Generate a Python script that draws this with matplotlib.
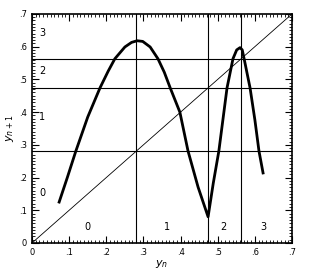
import numpy as np
import matplotlib.pyplot as plt
from matplotlib.ticker import MultipleLocator, FuncFormatter

# map curve y_{n+1} = f(y_n)
yn = [0.073, 0.095, 0.118, 0.150, 0.183, 0.205, 0.223, 0.250, 0.268, 0.283,
      0.298, 0.318, 0.339, 0.356, 0.372, 0.398, 0.420, 0.447, 0.474,
      0.488, 0.503, 0.525, 0.541, 0.551, 0.560, 0.566, 0.571, 0.587,
      0.600, 0.611, 0.622]
yn1 = [0.125, 0.200, 0.281, 0.385, 0.474, 0.525, 0.563, 0.599, 0.613, 0.618,
       0.616, 0.599, 0.563, 0.522, 0.474, 0.400, 0.281, 0.171, 0.080,
       0.183, 0.281, 0.474, 0.563, 0.590, 0.597, 0.590, 0.563, 0.474,
       0.376, 0.281, 0.214]

# partition boundaries
bounds = [0.281, 0.474, 0.563]

# region labels
lab_text = ['0', '1', '2', '3']
lab_left_y = [0.153, 0.385, 0.526, 0.642]
lab_bot_x = [0.148, 0.364, 0.514, 0.622]

fig = plt.figure(figsize=(3.11, 2.73), dpi=100)
ax = fig.add_axes([0.103, 0.110, 0.836, 0.839])

ax.plot([0, 0.7], [0, 0.7], color='black', lw=0.6)
for b in bounds:
    ax.axvline(b, color='black', lw=0.8)
    ax.axhline(b, color='black', lw=0.8)
ax.plot(yn, yn1, color='black', lw=2.0, solid_joinstyle='round')

for t, y in zip(lab_text, lab_left_y):
    ax.text(0.027, y, t, fontsize=7, ha='center', va='center')
for t, x in zip(lab_text, lab_bot_x):
    ax.text(x, 0.049, t, fontsize=7, ha='center', va='center')

ax.set_xlim(0, 0.7)
ax.set_ylim(0, 0.7)

fmt = FuncFormatter(lambda v, p: '0' if abs(v) < 1e-9 else ('%.1f' % v).lstrip('0'))
for a in (ax.xaxis, ax.yaxis):
    a.set_major_locator(MultipleLocator(0.1))
    a.set_minor_locator(MultipleLocator(0.01))
    a.set_major_formatter(fmt)
ax.tick_params(which='both', direction='in', top=True, right=True, labelsize=6)
ax.tick_params(which='major', length=5, width=0.8)
ax.tick_params(which='minor', length=2.5, width=0.6)
for s in ax.spines.values():
    s.set_linewidth(1.2)

ax.set_xlabel(r'$y_n$', fontsize=8, labelpad=1)
ax.set_ylabel(r'$y_{n+1}$', fontsize=8, labelpad=2)

fig.savefig('out.png', dpi=100)
